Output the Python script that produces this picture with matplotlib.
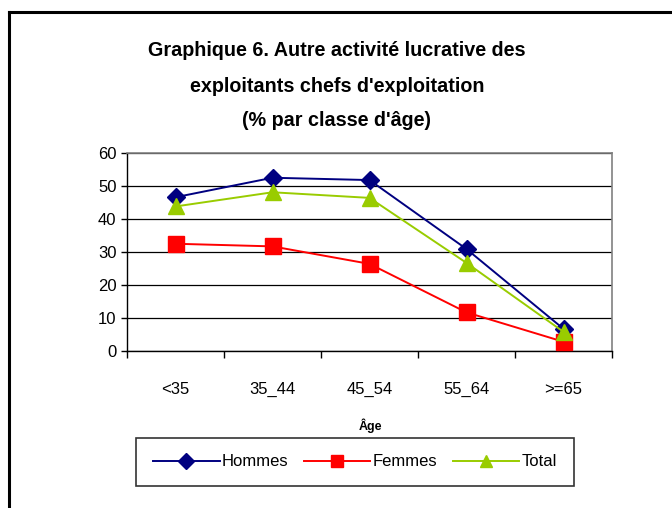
import matplotlib.pyplot as plt
import numpy as np
from matplotlib.lines import Line2D

# Data
categories = ['<35', '35_44', '45_54', '55_64', '>=65']
hommes = [46.6, 52.5, 51.8, 30.9, 6.7]
femmes = [32.5, 31.7, 26.4, 11.7, 2.8]
total = [43.8, 48.1, 46.4, 26.7, 5.8]

plt.rcParams['font.family'] = ['Liberation Sans', 'DejaVu Sans']

fig = plt.figure(figsize=(6.72, 5.08), dpi=100)
W, H = 672, 508

# Outer chart border (left and top visible)
fig.add_artist(Line2D([9 / W, 9 / W], [0, 1 - 12 / H], color='black', lw=2.2,
                      transform=fig.transFigure))
fig.add_artist(Line2D([9 / W, 1], [1 - 12 / H, 1 - 12 / H], color='black',
                      lw=2.2, transform=fig.transFigure))

# Title
title_lines = ["Graphique 6. Autre activité lucrative des",
               "exploitants chefs d'exploitation",
               "(% par classe d'âge)"]
for line, ypx in zip(title_lines, [51, 87, 121]):
    fig.text(337 / W, 1 - ypx / H, line, ha='center', va='center',
             fontsize=14.2, fontweight='bold')

ax = fig.add_axes([127 / W, 1 - 351 / H, (612 - 127) / W, (351 - 153) / H])
x = np.arange(len(categories))

ax.plot(x, hommes, color='#000080', lw=1.4, marker='D', markersize=9,
        label='Hommes', zorder=4)
ax.plot(x, femmes, color='#FF0000', lw=1.4, marker='s', markersize=11,
        label='Femmes', zorder=3)
ax.plot(x, total, color='#99CC00', lw=1.4, marker='^', markersize=11,
        label='Total', zorder=5)

ax.set_xlim(-0.5, len(categories) - 0.5)
ax.set_ylim(0, 60)
ax.set_yticks(range(0, 61, 10))
ax.set_xticks(x)
ax.set_xticklabels(categories, fontsize=12)
ax.set_xticks(np.arange(-0.5, len(categories), 1), minor=True)
ax.tick_params(axis='x', which='major', length=0, pad=22)
ax.tick_params(axis='x', which='minor', length=5, direction='out', width=1)
ax.tick_params(axis='y', length=4, direction='out', labelsize=12, width=1)
ax.yaxis.grid(True, color='black', lw=0.9)
ax.set_axisbelow(True)

for s in ['left', 'bottom']:
    ax.spines[s].set_color('black')
    ax.spines[s].set_linewidth(1)
for s in ['top', 'right']:
    ax.spines[s].set_color('#808080')
    ax.spines[s].set_linewidth(1.2)

fig.text(370 / W, 1 - 426 / H, 'Âge', ha='center', va='center',
         fontsize=9, fontweight='bold')

leg = fig.legend(loc='center', bbox_to_anchor=(355 / W, 1 - 462 / H),
                 ncol=3, fontsize=12, frameon=True, fancybox=False,
                 edgecolor='black', handlelength=4.0, columnspacing=0.9,
                 handletextpad=0.15, borderpad=1.0)
leg.get_frame().set_linewidth(1.2)
for h in leg.legend_handles:
    h.set_markersize(8.5)

fig.savefig('out.png', dpi=100)
